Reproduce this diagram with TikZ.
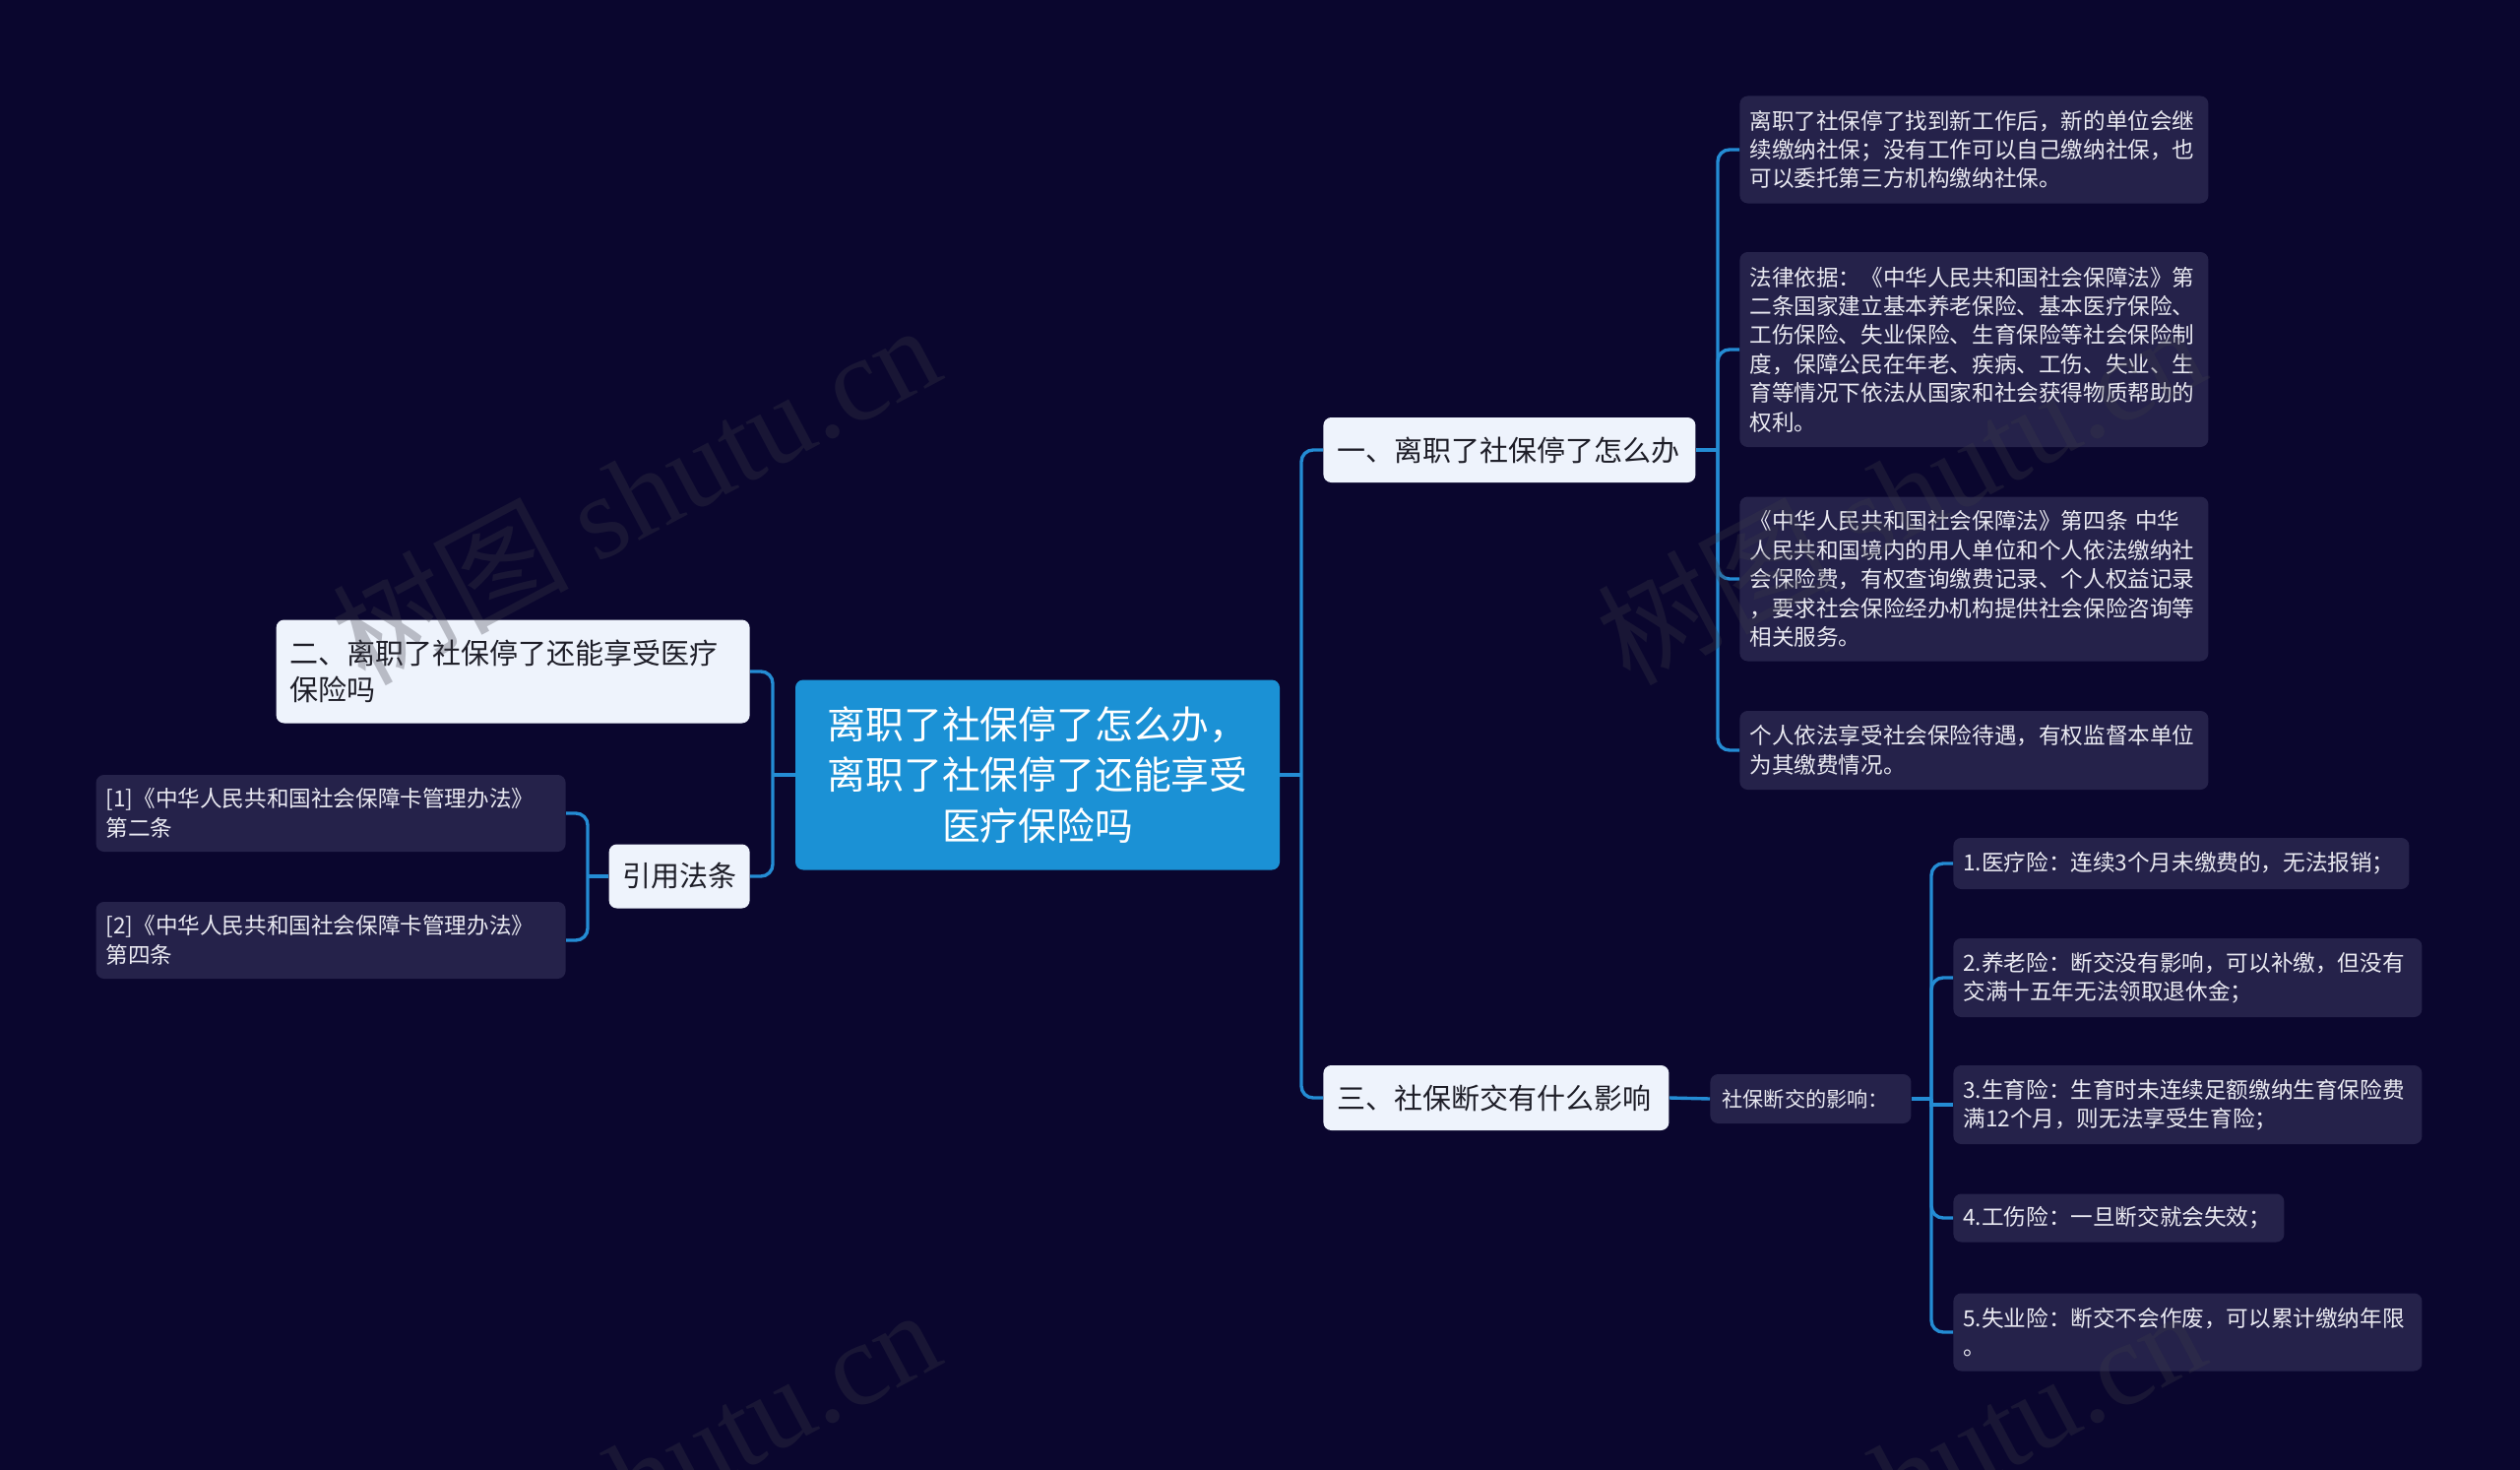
\documentclass[tikz,border=0pt]{standalone}
\usepackage{fontspec}
\setmainfont{Noto Sans CJK SC}
\newfontfamily\wmlatin{Liberation Serif}
\usetikzlibrary{calc}
\definecolor{bgc}{RGB}{10,6,46}
\definecolor{leafc}{RGB}{37,34,74}
\definecolor{branchc}{RGB}{238,243,252}
\definecolor{rootc}{RGB}{27,145,213}
\definecolor{linec}{RGB}{36,140,212}
\definecolor{leaftext}{RGB}{234,234,242}
\definecolor{branchtext}{RGB}{30,30,40}
\definecolor{wmc}{RGB}{60,60,72}
\begin{document}
\begin{tikzpicture}[x=0.5pt,y=-0.5pt,
  conn/.style={draw=linec,line width=1.7pt,rounded corners=6pt},
  box/.style={rounded corners=4pt,inner ysep=0pt,inner xsep=5pt},
  leaf/.style={box,fill=leafc,text=leaftext,font=\fontsize{11.3}{14.7}\selectfont,align=left,anchor=west,text width=228pt},
  branch/.style={box,fill=branchc,text=branchtext,font=\fontsize{14.5}{18.8}\selectfont,align=left,inner xsep=7pt},
  rootnode/.style={box,fill=rootc,text=white,font=\fontsize{19.4}{25.7}\selectfont,align=center,inner xsep=8pt,text width=230pt},
  wm/.style={text=wmc,opacity=0.3,font=\fontsize{60}{60}\selectfont,rotate=28,inner sep=0pt}
]
\fill[bgc] (0,0) rectangle (2560,1493);
\useasboundingbox (0,0) rectangle (2560,1493);

% root
\node[rootnode,minimum height=96.5pt] (C) at (1054,787) {离职了社保停了怎么办，\\离职了社保停了还能享受\\医疗保险吗};

% main branches
\node[branch,anchor=west,text width=175pt,minimum height=33pt] (B1) at (1344,457) {一、离职了社保停了怎么办};
\node[branch,anchor=west,text width=161.5pt,minimum height=33pt] (B3) at (1344,1115) {三、社保断交有什么影响};
\node[branch,anchor=east,text width=226.5pt,minimum height=52.5pt] (B2) at (762,682) {二、离职了社保停了还能享受医疗\\保险吗};
\node[branch,anchor=east,text width=58pt,align=center,inner xsep=6.75pt,minimum height=32.5pt] (Ref) at (762,890) {引用法条};

% references
\node[leaf,anchor=east,text width=228.5pt,minimum height=39pt] (R1) at (575,826) {[1]《中华人民共和国社会保障卡管理办法》\\第二条};
\node[leaf,anchor=east,text width=228.5pt,minimum height=39pt] (R2) at (575,955) {[2]《中华人民共和国社会保障卡管理办法》\\第四条};

% leaves of branch 1
\node[leaf,minimum height=54.5pt] (L1) at (1767,152) {离职了社保停了找到新工作后，新的单位会继\\续缴纳社保；没有工作可以自己缴纳社保，也\\可以委托第三方机构缴纳社保。};
\node[leaf,minimum height=99pt] (L2) at (1767,355) {法律依据：《中华人民共和国社会保障法》第\\二条国家建立基本养老保险、基本医疗保险、\\工伤保险、失业保险、生育保险等社会保险制\\度，保障公民在年老、疾病、工伤、失业、生\\育等情况下依法从国家和社会获得物质帮助的\\权利。};
\node[leaf,minimum height=83.5pt] (L3) at (1767,588) {《中华人民共和国社会保障法》第四条 中华\\人民共和国境内的用人单位和个人依法缴纳社\\会保险费，有权查询缴费记录、个人权益记录\\，要求社会保险经办机构提供社会保险咨询等\\相关服务。};
\node[leaf,minimum height=40pt] (L4) at (1767,762) {个人依法享受社会保险待遇，有权监督本单位\\为其缴费情况。};

% branch 3
\node[leaf,font=\fontsize{10.6}{13.5}\selectfont,text width=90pt,inner xsep=6pt,minimum height=25pt] (S) at (1737,1116) {社保断交的影响：};
\node[leaf,text width=221.5pt,minimum height=26pt] (I1) at (1984,877) {1.医疗险：连续3个月未缴费的，无法报销；};
\node[leaf,minimum height=40pt] (I2) at (1984,993) {2.养老险：断交没有影响，可以补缴，但没有\\交满十五年无法领取退休金；};
\node[leaf,minimum height=40pt] (I3) at (1984,1122) {3.生育险：生育时未连续足额缴纳生育保险费\\满12个月，则无法享受生育险；};
\node[leaf,text width=158pt,minimum height=24.5pt] (I4) at (1984,1237) {4.工伤险：一旦断交就会失效；};
\node[leaf,minimum height=39.5pt] (I5) at (1984,1353) {5.失业险：断交不会作废，可以累计缴纳年限\\。};

% spine points
\coordinate (sC) at (1322,787);
\coordinate (sL) at (785,787);
\coordinate (sR) at (597,890);
\coordinate (s1) at (1745,457);
\coordinate (sS) at (1962,1116);

% connectors
\draw[conn] (B1.west) -| (sC) |- (B3.west);
\draw[conn] (C.east) -- (sC);
\draw[conn] (B2.east) -| (sL) |- (Ref.east);
\draw[conn] (C.west) -- (sL);
\draw[conn] (R1.east) -| (sR) |- (R2.east);
\draw[conn] (Ref.west) -- (sR);
\draw[conn] (L1.west) -| (s1) |- (L4.west);
\draw[conn] (B1.east) -- (s1);
\draw[conn] (s1) |- (L2.west);
\draw[conn] (s1) |- (L3.west);
\draw[conn] (B3.east) -- (S.west);
\draw[conn] (I1.west) -| (sS) |- (I5.west);
\draw[conn] (S.east) -- (sS);
\draw[conn] (sS) |- (I2.west);
\draw[conn,sharp corners] (sS) |- (I3.west);
\draw[conn] (sS) |- (I4.west);

% watermarks
\node[wm] (wm1) at (645,500) {树图 {\wmlatin shutu.cn}};
\node[wm] (wm2) at (1930,500) {树图 {\wmlatin shutu.cn}};
\node[wm] (wm3) at (645,1500) {树图 {\wmlatin shutu.cn}};
\node[wm] (wm4) at (1930,1500) {树图 {\wmlatin shutu.cn}};
\end{tikzpicture}
\end{document}
